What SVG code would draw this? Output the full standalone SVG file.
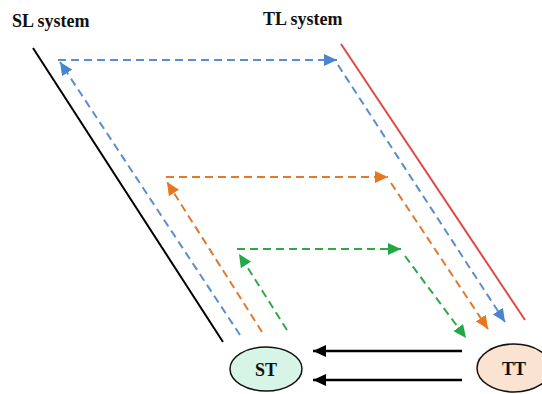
<svg xmlns="http://www.w3.org/2000/svg" width="542" height="394" viewBox="0 0 542 394">
<style>
.lbl{font-family:"Liberation Serif","Times New Roman",serif;font-weight:bold;font-size:18px;fill:#111}
.d{fill:none;stroke-width:2;stroke-dasharray:8 5}
.b{stroke:#5a8ed0}.o{stroke:#e07a2c}.g{stroke:#2ea84a}
</style>
<defs>
<marker id="ab" markerUnits="userSpaceOnUse" markerWidth="14" markerHeight="12" refX="13" refY="6" orient="auto"><path d="M0,0 L13,6 L0,12 Z" fill="#4a86d0"/></marker>
<marker id="ao" markerUnits="userSpaceOnUse" markerWidth="14" markerHeight="12" refX="13" refY="6" orient="auto"><path d="M0,0 L13,6 L0,12 Z" fill="#e8761e"/></marker>
<marker id="ag" markerUnits="userSpaceOnUse" markerWidth="14" markerHeight="12" refX="13" refY="6" orient="auto"><path d="M0,0 L13,6 L0,12 Z" fill="#22a846"/></marker>
<marker id="ak" markerUnits="userSpaceOnUse" markerWidth="14" markerHeight="12" refX="13" refY="6" orient="auto"><path d="M0,0 L13,6 L0,12 Z" fill="#000"/></marker>
</defs>
<rect width="542" height="394" fill="#fff"/>
<text class="lbl" x="12" y="27">SL system</text>
<text class="lbl" x="263" y="25">TL system</text>
<g id="systems">
<line x1="33" y1="48" x2="223" y2="342" stroke="#000" stroke-width="2"/>
<line x1="341" y1="44" x2="525" y2="320" stroke="#e04848" stroke-width="2"/>
</g>
<g id="connectors">
<line class="d b" x1="240" y1="335" x2="60" y2="62" marker-end="url(#ab)"/>
<line class="d b" x1="58" y1="60" x2="337" y2="60" marker-end="url(#ab)"/>
<line class="d b" x1="338" y1="65" x2="505" y2="322" marker-end="url(#ab)"/>
<line class="d o" x1="262" y1="332" x2="167" y2="182" marker-end="url(#ao)"/>
<line class="d o" x1="166" y1="177" x2="388" y2="177" marker-end="url(#ao)"/>
<line class="d o" x1="391" y1="183" x2="488" y2="329" marker-end="url(#ao)"/>
<line class="d g" x1="287" y1="330" x2="239" y2="254" marker-end="url(#ag)"/>
<line class="d g" x1="237" y1="249" x2="401" y2="249" marker-end="url(#ag)"/>
<line class="d g" x1="405" y1="256" x2="466" y2="338" marker-end="url(#ag)"/>
<line x1="462" y1="351" x2="313" y2="351" stroke="#000" stroke-width="2.5" marker-end="url(#ak)"/>
<line x1="462" y1="380" x2="313" y2="380" stroke="#000" stroke-width="2.5" marker-end="url(#ak)"/>
</g>
<g id="ST">
<ellipse cx="266" cy="369" rx="36" ry="22" fill="#d6f5e6" stroke="#111" stroke-width="1.5"/>
<text class="lbl" x="266" y="376" text-anchor="middle">ST</text>
</g>
<g id="TT">
<ellipse cx="514" cy="368" rx="37" ry="24" fill="#fbe3d2" stroke="#111" stroke-width="1.5"/>
<text class="lbl" x="514" y="375" text-anchor="middle">TT</text>
</g>
</svg>
